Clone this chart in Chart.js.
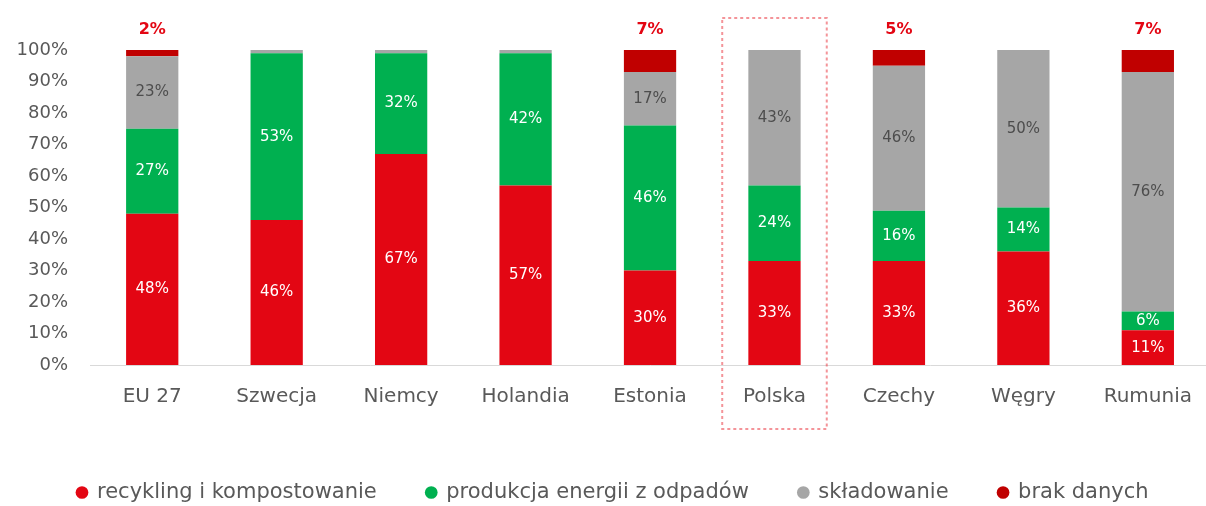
<!DOCTYPE html>
<html>
<head>
<meta charset="utf-8">
<script src="https://cdn.jsdelivr.net/npm/chart.js@4.4.1/dist/chart.umd.min.js"></script>
<style>
  html, body { margin: 0; padding: 0; background: #ffffff; overflow: hidden; }
  #wrap { width: 1212px; height: 506px; position: relative; }
</style>
</head>
<body>
<div id="wrap"><canvas id="chart"></canvas></div>
<script>
// Municipal waste treatment by country (% of total)
const countries = ['EU 27', 'Szwecja', 'Niemcy', 'Holandia', 'Estonia', 'Polska', 'Czechy', 'Węgry', 'Rumunia'];
const recycling = [48, 46, 67, 57, 30, 33, 33, 36, 11];
const energyRecovery = [27, 53, 32, 42, 46, 24, 16, 14, 6];
const landfill = [23, 1, 1, 1, 17, 43, 46, 50, 76];
const noData = [2, 0, 0, 0, 7, 0, 5, 0, 7];
const seriesNames = ['recykling i kompostowanie', 'produkcja energii z odpadów', 'składowanie', 'brak danych'];
const seriesColors = ['#E30613', '#00B050', '#A6A6A6', '#C00000'];
const labelColors = ['#ffffff', '#ffffff', '#4d4d4d', '#E30613'];
const yTickValues = [0, 10, 20, 30, 40, 50, 60, 70, 80, 90, 100];
const highlighted = 'Polska';

Chart.defaults.font.family = "'DejaVu Sans', sans-serif";
Chart.defaults.color = '#595959';

// Writes each segment's share inside it; the "no data" share goes above the bar
const segmentLabels = {
  id: 'segmentLabels',
  afterDatasetsDraw(chart) {
    const ctx = chart.ctx;
    ctx.save();
    ctx.textAlign = 'center';
    ctx.textBaseline = 'middle';
    chart.data.datasets.forEach((ds, di) => {
      const meta = chart.getDatasetMeta(di);
      meta.data.forEach((el, i) => {
        const v = ds.data[i];
        if (di === 3) {
          if (v > 0) {
            ctx.font = "bold 16px 'DejaVu Sans', sans-serif";
            ctx.fillStyle = labelColors[3];
            ctx.fillText(v + '%', el.x, el.y - 20);
          }
        } else if (v >= 4) {
          ctx.font = "15px 'DejaVu Sans', sans-serif";
          ctx.fillStyle = labelColors[di];
          ctx.fillText(v + '%', el.x, (el.y + el.base) / 2);
        }
      });
    });
    ctx.restore();
  }
};

// Dashed frame around the highlighted country
const highlightFrame = {
  id: 'highlightFrame',
  afterDraw(chart) {
    const x = chart.scales.x;
    const idx = countries.indexOf(highlighted);
    if (idx < 0) return;
    const cx = x.getPixelForValue(idx);
    const step = x.width / countries.length;
    const half = step * 0.42;
    const top = chart.chartArea.top - 32;
    const bottom = chart.chartArea.bottom + 64;
    const ctx = chart.ctx;
    ctx.save();
    ctx.strokeStyle = 'rgba(235, 60, 70, 0.55)';
    ctx.lineWidth = 2;
    ctx.setLineDash([3, 3]);
    ctx.strokeRect(cx - half, top, half * 2, bottom - top);
    ctx.restore();
  }
};

const datasets = [recycling, energyRecovery, landfill, noData].map((data, i) => ({
  label: seriesNames[i],
  data: data,
  backgroundColor: seriesColors[i],
  borderWidth: 0,
  barPercentage: 0.42,
  categoryPercentage: 1.0
}));

new Chart(document.getElementById('chart'), {
  type: 'bar',
  data: { labels: countries, datasets: datasets },
  options: {
    responsive: true,
    maintainAspectRatio: false,
    animation: false,
    layout: { padding: { top: 50, left: 14, right: 0, bottom: 0 } },
    plugins: {
      tooltip: { enabled: false },
      legend: {
        position: 'bottom',
        labels: {
          usePointStyle: true,
          pointStyle: 'circle',
          boxWidth: 9,
          boxHeight: 9,
          padding: 50,
          color: '#595959',
          font: { size: 21 }
        }
      }
    },
    scales: {
      x: {
        stacked: true,
        grid: { display: false, drawTicks: false },
        border: { display: true, color: '#d9d9d9', width: 1 },
        ticks: { padding: 20, color: '#595959', font: { size: 20 } },
        afterFit(scale) { scale.height = 67; }
      },
      y: {
        stacked: true,
        min: 0,
        max: 100,
        grid: { display: false, drawTicks: false },
        border: { display: false },
        afterBuildTicks(scale) { scale.ticks = yTickValues.map(v => ({ value: v })); },
        afterFit(scale) { scale.width = 76; },
        ticks: {
          padding: 22,
          color: '#595959',
          font: { size: 18 },
          callback: v => v + '%'
        }
      }
    }
  },
  plugins: [segmentLabels, highlightFrame, {
    id: 'legendHeight',
    beforeInit(chart) {
      const fit = chart.legend.fit;
      chart.legend.fit = function () {
        fit.call(this);
        this.height = 74;
      };
    }
  }]
});
</script>
</body>
</html>
